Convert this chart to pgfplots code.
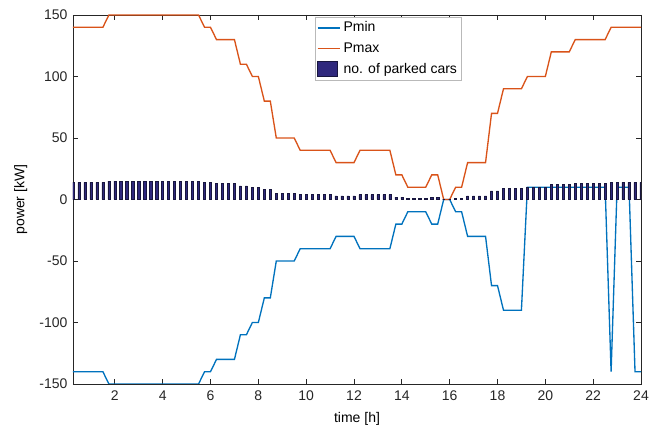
\documentclass[border=0pt]{standalone}
\usepackage{fontspec}
\setmainfont{Liberation Sans}
\usepackage{pgfplots}
\usepackage{pgfplotstable}
\pgfplotsset{compat=1.18}
\usetikzlibrary{calc}
\definecolor{cmin}{rgb}{0,0.447,0.741}
\definecolor{cmax}{rgb}{0.85,0.325,0.098}
\definecolor{barfill}{RGB}{47,40,125}
\definecolor{baredge}{RGB}{24,22,62}
\definecolor{axgray}{RGB}{38,38,38}

\pgfplotstableread{
t pmin pmax cars
0.25 -140 140 14
0.5 -140 140 14
0.75 -140 140 14
1.0 -140 140 14
1.25 -140 140 14
1.5 -140 140 14
1.75 -150 150 15
2.0 -150 150 15
2.25 -150 150 15
2.5 -150 150 15
2.75 -150 150 15
3.0 -150 150 15
3.25 -150 150 15
3.5 -150 150 15
3.75 -150 150 15
4.0 -150 150 15
4.25 -150 150 15
4.5 -150 150 15
4.75 -150 150 15
5.0 -150 150 15
5.25 -150 150 15
5.5 -150 150 15
5.75 -140 140 14
6.0 -140 140 14
6.25 -130 130 13
6.5 -130 130 13
6.75 -130 130 13
7.0 -130 130 13
7.25 -110 110 11
7.5 -110 110 11
7.75 -100 100 10
8.0 -100 100 10
8.25 -80 80 8
8.5 -80 80 8
8.75 -50 50 5
9.0 -50 50 5
9.25 -50 50 5
9.5 -50 50 5
9.75 -40 40 4
10.0 -40 40 4
10.25 -40 40 4
10.5 -40 40 4
10.75 -40 40 4
11.0 -40 40 4
11.25 -30 30 3
11.5 -30 30 3
11.75 -30 30 3
12.0 -30 30 3
12.25 -40 40 4
12.5 -40 40 4
12.75 -40 40 4
13.0 -40 40 4
13.25 -40 40 4
13.5 -40 40 4
13.75 -20 20 2
14.0 -20 20 2
14.25 -10 10 1
14.5 -10 10 1
14.75 -10 10 1
15.0 -10 10 1
15.25 -20 20 2
15.5 -20 20 2
15.75 0 0 0
16.0 0 0 0
16.25 -10 10 1
16.5 -10 10 1
16.75 -30 30 3
17.0 -30 30 3
17.25 -30 30 3
17.5 -30 30 3
17.75 -70 70 7
18.0 -70 70 7
18.25 -90 90 9
18.5 -90 90 9
18.75 -90 90 9
19.0 -90 90 9
19.25 10 100 10
19.5 10 100 10
19.75 10 100 10
20.0 10 100 10
20.25 10 120 12
20.5 10 120 12
20.75 10 120 12
21.0 10 120 12
21.25 10 130 13
21.5 10 130 13
21.75 10 130 13
22.0 10 130 13
22.25 10 130 13
22.5 10 130 13
22.75 -140 140 14
23.0 10 140 14
23.25 10 140 14
23.5 10 140 14
23.75 -140 140 14
24.0 -140 140 14
}\datatable

\begin{document}
\fontsize{10.5}{12}\selectfont
\begin{tikzpicture}
\begin{axis}[name=ax, scale only axis, width=426pt, height=276.75pt,
  xmin=0.25, xmax=24, ymin=-150, ymax=150,
  xtick={2,4,...,24}, ytick={-150,-100,...,150},
  tick align=inside, major tick length=3.75pt,
  axis line style={axgray, line width=0.7pt},
  every tick/.style={axgray, line width=0.7pt},
  tick label style={font=\fontsize{10.5}{12}\selectfont, text=axgray},
  /pgf/number format/assume math mode=true,
  xticklabel style={yshift=-1.5pt},
  yticklabel style={xshift=-0.5pt},
  xlabel={time [h]}, ylabel={power [kW]},
  label style={font=\fontsize{10.5}{12}\selectfont, text=axgray},
  every axis x label/.style={at={(axis description cs:0.5,-0.095)}, anchor=center},
  every axis y label/.style={at={(axis description cs:-0.092,0.5)}, anchor=center, rotate=90},
  legend style={at={(axis description cs:0.555,0.995)}, anchor=north,
    draw=gray!55, fill=white, font=\fontsize{10.5}{12}\selectfont,
    row sep=2.5pt, inner sep=1.5pt},
  legend cell align=left,
]
\addplot[cmin, line width=1pt] table[x=t, y=pmin] {\datatable};
\addlegendentry{Pmin}
\addplot[cmax, line width=1pt] table[x=t, y=pmax] {\datatable};
\addlegendentry{Pmax}
\addplot[ybar, bar width=0.09, fill=barfill, draw=baredge, line width=0.4pt,
  legend image code/.code={\draw[fill=barfill, draw=baredge, line width=0.4pt] (0pt,-5.5pt) rectangle (15pt,6pt);}]
  table[x=t, y=cars] {\datatable};
\addlegendentry{no. of parked cars}
\end{axis}
\pgfresetboundingbox
\path[use as bounding box] ($(ax.south west)+(-54.75pt,-34.5pt)$) rectangle ($(ax.north east)+(15pt,11.25pt)$);
\end{tikzpicture}
\end{document}
